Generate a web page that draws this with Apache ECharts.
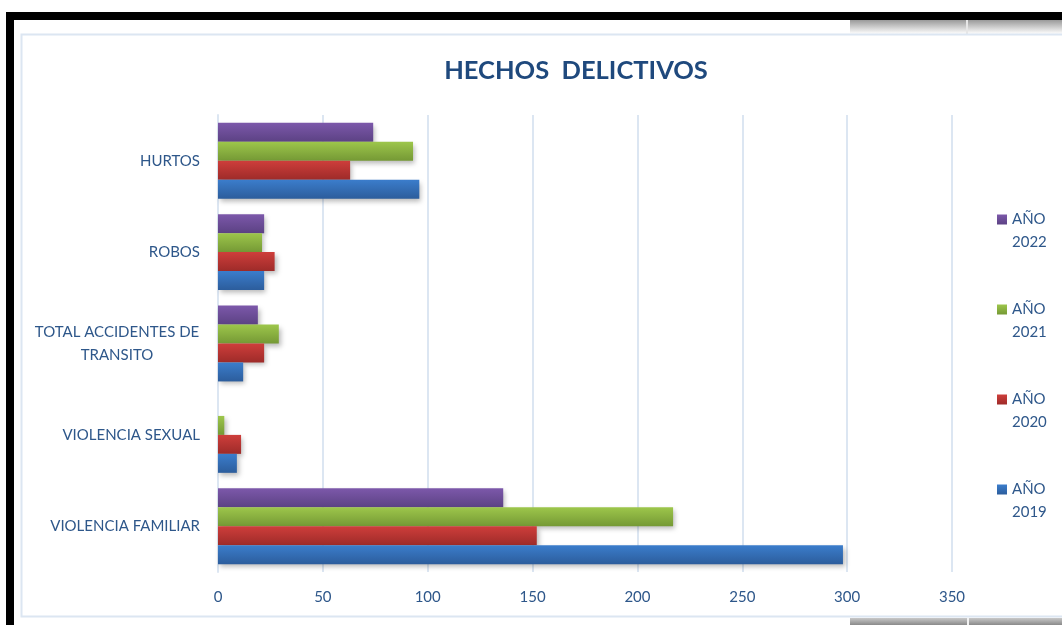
<!DOCTYPE html>
<html>
<head>
<meta charset="utf-8">
<script src="https://cdn.jsdelivr.net/npm/echarts@6/dist/echarts.min.js"></script>
<style>
html,body{margin:0;padding:0;background:#fff;}
#c{width:1062px;height:625px;}
</style>
</head>
<body>
<div id="c"></div>
<script>
const categories = ['VIOLENCIA FAMILIAR', 'VIOLENCIA SEXUAL', 'TOTAL ACCIDENTES DE\nTRANSITO', 'ROBOS', 'HURTOS'];
const seriesNames = ['AÑO 2022', 'AÑO 2021', 'AÑO 2020', 'AÑO 2019'];
const values2019 = [298, 9, 12, 22, 96];
const values2020 = [152, 11, 22, 27, 63];
const values2021 = [217, 3, 29, 21, 93];
const values2022 = [136, 0, 19, 22, 74];
const xTicks = [0, 50, 100, 150, 200, 250, 300, 350];

const allValues = [values2022, values2021, values2020, values2019];
const colorPairs = [
  ['#7C58AA', '#5C4284'],
  ['#9DC64B', '#759935'],
  ['#CE3E3B', '#9E2B29'],
  ['#3B7DCC', '#2C5D9C']
];
const txt = '#2E578A';
const FONT = 'Lato';

const chart = echarts.init(document.getElementById('c'), null, {renderer: 'canvas'});
const option = {
  backgroundColor: '#ffffff',
  animation: false,
  title: {
    text: 'HECHOS  DELICTIVOS',
    left: 571, top: 53, textAlign: 'center',
    textStyle: {color: '#1F497D', fontSize: 25.5, fontWeight: 'bold', fontFamily: FONT}
  },
  grid: {left: 218, right: 110, top: 115, bottom: 53, containLabel: false},
  legend: {
    orient: 'vertical',
    left: 992, top: 180,
    itemWidth: 10, itemHeight: 10,
    itemGap: 21,
    icon: 'rect',
    data: ['AÑO 2022', 'AÑO 2021', 'AÑO 2020', 'AÑO 2019'],
    formatter: n => '\u00a0\n' + n.replace(' ', '\n'),
    textStyle: {color: txt, fontSize: 15, fontFamily: FONT, lineHeight: 23},
    align: 'left'
  },
  xAxis: {
    type: 'value', min: 0, max: 350, interval: 50,
    axisLine: {show: false}, axisTick: {show: false},
    splitLine: {lineStyle: {color: '#DCE6F2', width: 2}},
    axisLabel: {color: txt, fontSize: 15, fontFamily: FONT, margin: 18,
      formatter: v => xTicks.includes(v) ? String(v) : ''}
  },
  yAxis: {
    type: 'category', data: categories,
    axisLine: {show: true, lineStyle: {color: '#DCE6F2', width: 2}},
    axisTick: {show: false},
    axisLabel: {
      color: txt, fontSize: 15, fontFamily: FONT, margin: 18, lineHeight: 23,
      formatter: v => v.includes('\n') ? v.split('\n').map(s => '{c|' + s + '}').join('\n') : v,
      rich: {c: {width: 166, align: 'center', color: txt, fontSize: 15, fontFamily: FONT, lineHeight: 23}}
    }
  },
  series: seriesNames.map((name, i) => ({
    name: name, type: 'bar',
    data: allValues[i],
    barCategoryGap: '17%', barGap: '0%',
    itemStyle: {
      color: new echarts.graphic.LinearGradient(0, 0, 0, 1, [
        {offset: 0, color: colorPairs[i][0]},
        {offset: 1, color: colorPairs[i][1]}
      ]),
      shadowColor: 'rgba(0,0,0,0.28)', shadowBlur: 5, shadowOffsetX: 2, shadowOffsetY: 3
    }
  })),
  graphic: [
    {type: 'rect', z: -10, silent: true, shape: {x: 850, y: 20, width: 212, height: 14},
      style: {fill: new echarts.graphic.LinearGradient(0, 0, 0, 1, [{offset: 0, color: '#9a9a9a'}, {offset: 1, color: '#ffffff'}])}},
    {type: 'rect', z: -10, silent: true, shape: {x: 966, y: 20, width: 2, height: 14}, style: {fill: '#e6e6e6'}},
    {type: 'rect', z: -10, silent: true, shape: {x: 850, y: 618, width: 212, height: 7},
      style: {fill: new echarts.graphic.LinearGradient(0, 0, 0, 1, [{offset: 0, color: '#c8c8c8'}, {offset: 1, color: '#8a8a8a'}])}},
    {type: 'rect', z: -10, silent: true, shape: {x: 967, y: 618, width: 2, height: 7}, style: {fill: '#f2f2f2'}},
    {type: 'rect', silent: true, shape: {x: 6, y: 12, width: 1056, height: 8}, style: {fill: '#000'}},
    {type: 'rect', silent: true, shape: {x: 6, y: 12, width: 8, height: 613}, style: {fill: '#000'}},
    {type: 'polyline', silent: true, shape: {points: [[1062, 34.5], [21.5, 34.5], [21.5, 616.5], [1062, 616.5]]},
      style: {stroke: '#DCE6F2', lineWidth: 2, fill: null}}
  ]
};
chart.setOption(option);
</script>
</body>
</html>
